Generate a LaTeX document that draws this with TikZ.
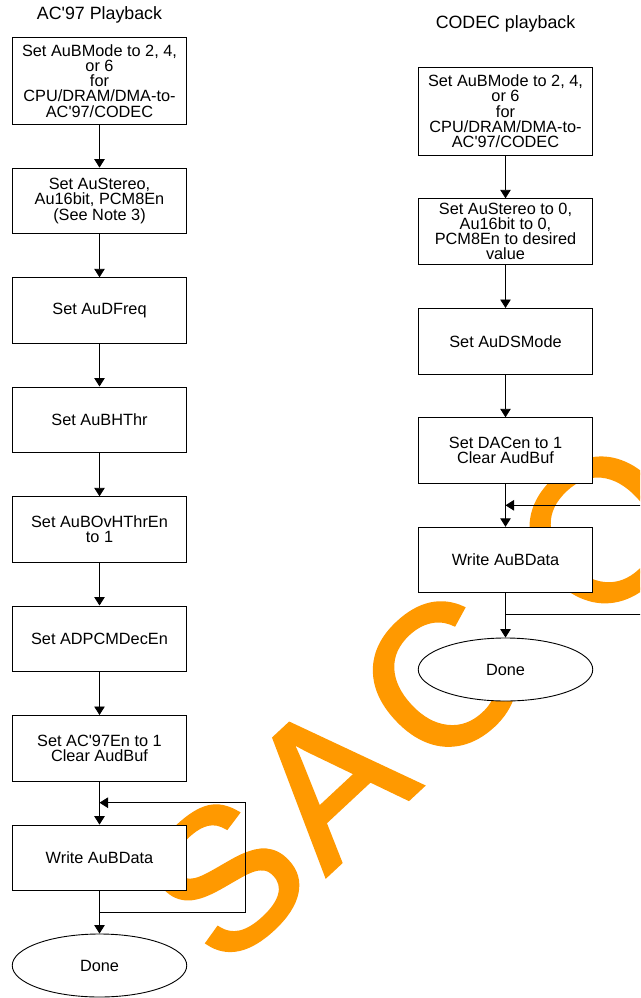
\documentclass[tikz,border=0pt]{standalone}
\usepackage{fontspec}
\setmainfont{Liberation Sans}
\newfontfamily\markfamily{Liberation Sans}[FakeBold=1.9]
\usetikzlibrary{arrows.meta,shapes.geometric}
\definecolor{wmorange}{RGB}{255,153,0}
\newcommand{\flowfont}{\fontsize{16.3pt}{15.2pt}\selectfont}
\newcommand{\headfont}{\fontsize{17.8pt}{18pt}\selectfont}
\newcommand{\markfont}{\markfamily\fontsize{198pt}{198pt}\selectfont}
\newcommand{\apos}{\textquotesingle}
\begin{document}
\begin{tikzpicture}[x=1pt,y=-1pt,
  stepbox/.style={draw=black, line width=0.9pt, fill=white, minimum width=174.5pt,
    minimum height=65.5pt, inner sep=1pt, align=center, font=\flowfont},
  endnode/.style={ellipse, draw=black, line width=0.9pt, fill=white, minimum width=174.5pt,
    minimum height=63pt, inner sep=0pt, font=\flowfont},
  heading/.style={anchor=base, inner sep=0pt, font=\headfont},
  wmletter/.style={text=wmorange, font=\markfont, rotate=43, inner sep=0pt, anchor=center},
  flow/.style={draw=black, line width=0.9pt, -{Triangle[width=10.5pt,length=8.5pt]}}
]
\useasboundingbox (0,0) rectangle (640,998);
\clip (0,0) rectangle (640,998);
\fill[white] (0,0) rectangle (640,998);

% watermark, drawn first so the boxes cover it
\node[wmletter] (wmS) at (225,878) {S};
\node[wmletter] (wmA) at (328,781) {A};
\node[wmletter] (wmC) at (442,677.5) {C};
\node[wmletter] (wmO) at (603,530) {O};

% headings
\node[heading] (lhead) at (99.5,19.7) {AC\apos97 Playback};
\node[heading] (rhead) at (505.5,28.3) {CODEC playback};

% AC'97 playback column
\node[stepbox, minimum height=87pt] (l1) at (99.5,80.8) {Set AuBMode to 2, 4,\\or 6\\for\\CPU/DRAM/DMA-to-\\AC\apos97/CODEC};
\node[stepbox] (l2) at (99.5,200.8) {Set AuStereo,\\Au16bit, PCM8En\\(See Note 3)};
\node[stepbox] (l3) at (99.5,310.5) {Set AuDFreq};
\node[stepbox] (l4) at (99.5,419.7) {Set AuBHThr};
\node[stepbox] (l5) at (99.5,529.5) {Set AuBOvHThrEn\\to 1};
\node[stepbox] (l6) at (99.5,638.7) {Set ADPCMDecEn};
\node[stepbox] (l7) at (99.5,748.2) {Set AC\apos97En to 1\\Clear AudBuf};
\node[stepbox] (l8) at (99.5,857.8) {Write AuBData};
\node[endnode] (ldone) at (99.5,965.5) {Done};

% CODEC playback column
\node[stepbox, minimum height=87.7pt] (r1) at (505.5,111.2) {Set AuBMode to 2, 4,\\or 6\\for\\CPU/DRAM/DMA-to-\\AC\apos97/CODEC};
\node[stepbox] (r2) at (505.5,231.5) {Set AuStereo to 0,\\Au16bit to 0,\\PCM8En to desired\\value};
\node[stepbox] (r3) at (505.5,341.2) {Set AuDSMode};
\node[stepbox] (r4) at (505.5,450.5) {Set DACen to 1\\Clear AudBuf};
\node[stepbox] (r5) at (505.5,560) {Write AuBData};
\node[endnode] (rdone) at (505.5,669.5) {Done};

% straight flow
\foreach \a/\b in {l1/l2,l2/l3,l3/l4,l4/l5,l5/l6,l6/l7,l7/l8,l8/ldone,
                   r1/r2,r2/r3,r3/r4,r4/r5,r5/rdone}
  \draw[flow] (\a.south) -- (\b.north);

% write loops
\coordinate (lloopout) at (99.5,912.3);
\coordinate (lloopin) at (99.5,802.7);
\draw[flow] (lloopout) -- (245,912.3) |- (lloopin);

\coordinate (rloopout) at (505.5,614.3);
\coordinate (rloopin) at (505.5,505.3);
\draw[flow] (rloopout) -- (680,614.3) |- (rloopin);
\end{tikzpicture}
\end{document}
